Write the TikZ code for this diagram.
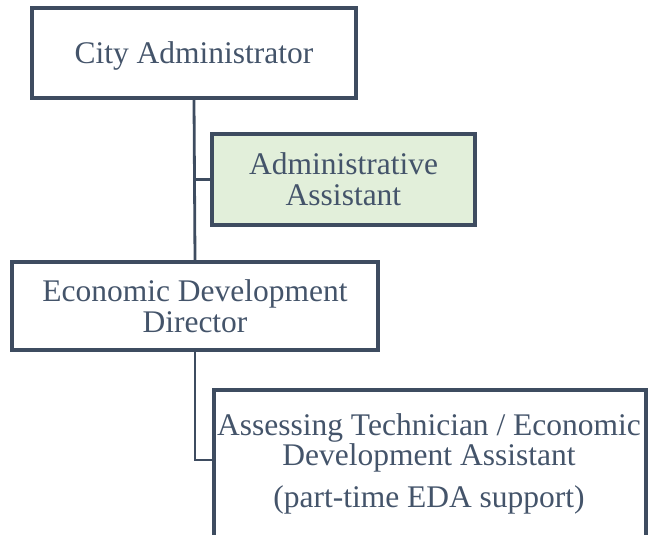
\documentclass[tikz,border=0pt]{standalone}
\usepackage{fontspec}
\setmainfont{LiberationSerif}[Extension=.ttf,UprightFont=*-Regular,BoldFont=*-Bold]
\definecolor{ink}{HTML}{44546A}
\definecolor{edge}{HTML}{3E4C60}
\definecolor{paleg}{HTML}{E2EFDA}
\begin{document}
\begin{tikzpicture}[x=1pt,y=-1pt,
  box/.style={draw=edge,line width=4pt,rectangle,inner sep=0pt,text=ink,align=center,
    font=\fontsize{31.5}{31}\selectfont},
  link/.style={draw=edge,line width=2.8pt}]
\useasboundingbox (0,0) rectangle (649,535);
\clip (0,0) rectangle (649,535);
\node[box,minimum width=324pt,minimum height=90pt] (ca) at (194,53) {\raisebox{-3pt}[\height][\depth]{City Administrator}};
\node[box,fill=paleg,minimum width=263pt,minimum height=91pt] (aa) at (343.5,179.5) {Administrative\\Assistant};
\node[box,minimum width=366pt,minimum height=88pt] (ed) at (195,306) {Economic Development\\Director};
\node[box,anchor=north west,minimum width=432pt,minimum height=220pt] (eda) at (212,388) {};
\node[text=ink,align=center,inner sep=0pt,anchor=north,
  font=\fontsize{31.5}{30.5}\selectfont] (edat) at (429,413)
  {Assessing Technician / Economic\\Development Assistant\\[11pt](part-time EDA support)};
\coordinate (edaj) at (212,460);
\draw[link] (ca.south) -- (ed.north);
\draw[link] (aa.west) -- (aa.west -| ed.north);
\draw[link] (ed.south) |- (edaj);
\end{tikzpicture}
\end{document}
